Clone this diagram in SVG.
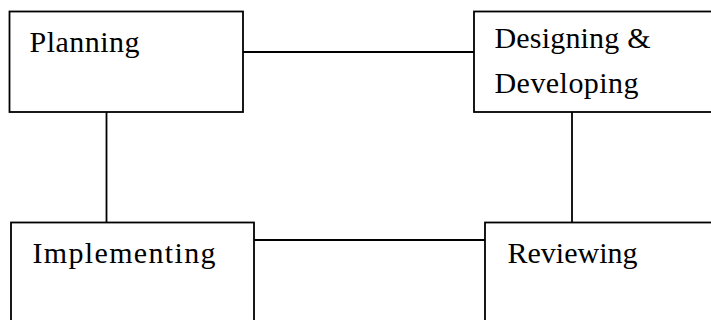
<svg xmlns="http://www.w3.org/2000/svg" width="711" height="320" viewBox="0 0 711 320">
<style>
.box{fill:#fff;stroke:#000;stroke-width:1.8}
.conn line{stroke:#000;stroke-width:1.8}
text{font-family:"Liberation Serif","Times New Roman",serif;font-size:30px;fill:#000}
</style>
<rect width="711" height="320" fill="#fff"/>
<g id="connectors" class="conn">
<line x1="243" y1="52" x2="474" y2="52"/>
<line x1="106.5" y1="112" x2="106.5" y2="222"/>
<line x1="572" y1="112" x2="572" y2="222"/>
<line x1="254" y1="240" x2="485" y2="240"/>
</g>
<g id="planning">
<rect class="box" x="9.5" y="11.5" width="233.5" height="100.5"/>
<text x="29.5" y="52" textLength="110" lengthAdjust="spacing">Planning</text>
</g>
<g id="designing">
<rect class="box" x="474" y="11.5" width="250" height="100.5"/>
<text x="494.5" y="48" textLength="156" lengthAdjust="spacing">Designing &amp;</text>
<text x="494.5" y="93" textLength="144" lengthAdjust="spacing">Developing</text>
</g>
<g id="implementing">
<rect class="box" x="11" y="222.5" width="243" height="120"/>
<text x="32.5" y="263" textLength="183" lengthAdjust="spacing">Implementing</text>
</g>
<g id="reviewing">
<rect class="box" x="485" y="222.5" width="250" height="120"/>
<text x="507.5" y="263">Reviewing</text>
</g>
</svg>
